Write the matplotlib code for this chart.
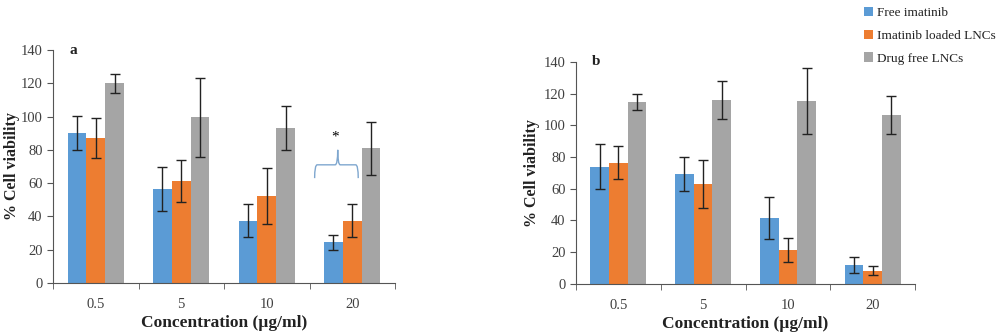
import numpy as np
import matplotlib.pyplot as plt
from matplotlib.path import Path
from matplotlib.patches import PathPatch

plt.rcParams['font.family'] = ['Liberation Serif', 'DejaVu Serif']

conc = ['0.5', '5', '10', '20']
series = ['Free imatinib', 'Imatinib loaded LNCs', 'Drug free LNCs']
colors = ['#5B9BD5', '#ED7D31', '#A5A5A5']

# panel a
a_free = [90, 56.5, 37.5, 24.5]
a_free_err = [10.3, 13.2, 9.7, 4.5]
a_loaded = [87, 61.5, 52.5, 37.5]
a_loaded_err = [12, 12.6, 16.8, 9.7]
a_blank = [120, 99.5, 93, 81]
a_blank_err = [5.6, 24, 13.3, 16]

# panel b
b_free = [74, 69.3, 41.6, 12]
b_free_err = [14, 11, 13, 5]
b_loaded = [76.4, 63, 21.4, 8.4]
b_loaded_err = [10.3, 15, 7.3, 2.7]
b_blank = [114.6, 116, 115.2, 106.6]
b_blank_err = [5, 12, 20.7, 12]

fig = plt.figure(figsize=(10, 3.36), dpi=100)
ax_a = fig.add_axes([0.053, 0.158, 0.342, 0.693])
ax_b = fig.add_axes([0.576, 0.155, 0.339, 0.661])

x = np.arange(len(conc))
w = 0.22


def draw(ax, vals, errs, tag, ylab_x):
    for i in range(3):
        ax.bar(x + (i - 1) * w, vals[i], w, color=colors[i], label=series[i],
               yerr=errs[i], capsize=3.5,
               error_kw=dict(ecolor='#222222', elinewidth=1, capthick=1))
    ax.set_xlim(-0.5, 3.5)
    ax.set_ylim(0, 140)
    ax.set_yticks(range(0, 141, 20))
    ax.set_xticks(x)
    ax.set_xticklabels(conc)
    ax.set_xticks(np.arange(-0.5, 3.6, 1), minor=True)
    ax.tick_params(axis='x', which='major', length=0, labelsize=10.5, pad=11,
                   labelcolor='#404040')
    ax.tick_params(axis='x', which='minor', length=4, direction='out', color='#555555')
    ax.tick_params(axis='y', length=4, labelsize=10.5, color='#555555',
                   labelcolor='#404040')
    for s in ['top', 'right']:
        ax.spines[s].set_visible(False)
    for s in ['left', 'bottom']:
        ax.spines[s].set_color('#555555')
    ax.set_xlabel('Concentration (µg/ml)', fontsize=12.5, fontweight='bold',
                  labelpad=3, color='#222222')
    ax.set_ylabel('% Cell viability', fontsize=11.5, fontweight='bold',
                  color='#222222', va='center')
    ax.yaxis.set_label_coords(ylab_x, 0.5)
    ax.text(0.06, 1.0, tag, transform=ax.transAxes, fontsize=11,
            fontweight='bold', va='center', ha='center', color='#222222')


draw(ax_a, [a_free, a_loaded, a_blank], [a_free_err, a_loaded_err, a_blank_err],
     'a', -0.12)
draw(ax_b, [b_free, b_loaded, b_blank], [b_free_err, b_loaded_err, b_blank_err],
     'b', -0.13)

# significance brace over 20 µg/ml in panel a
x0, xm, x1 = 2.56, 2.83, 3.07
yb, yl, yt = 63, 71, 80
verts = [(x0, yb), (x0, yl), (x0 + 0.03, yl),
         (xm - 0.03, yl), (xm, yl), (xm, yt),
         (xm, yl), (xm + 0.03, yl),
         (x1 - 0.03, yl), (x1, yl), (x1, yb)]
codes = [Path.MOVETO, Path.CURVE3, Path.CURVE3,
         Path.LINETO, Path.CURVE3, Path.CURVE3,
         Path.CURVE3, Path.CURVE3,
         Path.LINETO, Path.CURVE3, Path.CURVE3]
ax_a.add_patch(PathPatch(Path(verts, codes), fill=False, ec='#7FA7CF', lw=1))
ax_a.text(2.80, 88, '*', ha='center', va='center', fontsize=11)

handles, labels = ax_b.get_legend_handles_labels()
fig.legend(handles, labels, loc='upper left', bbox_to_anchor=(0.852, 1.015),
           frameon=False, fontsize=9.5, handlelength=0.7, handleheight=0.7,
           handletextpad=0.3, labelspacing=0.8, labelcolor='#222222')

fig.savefig('out.png', dpi=100)
